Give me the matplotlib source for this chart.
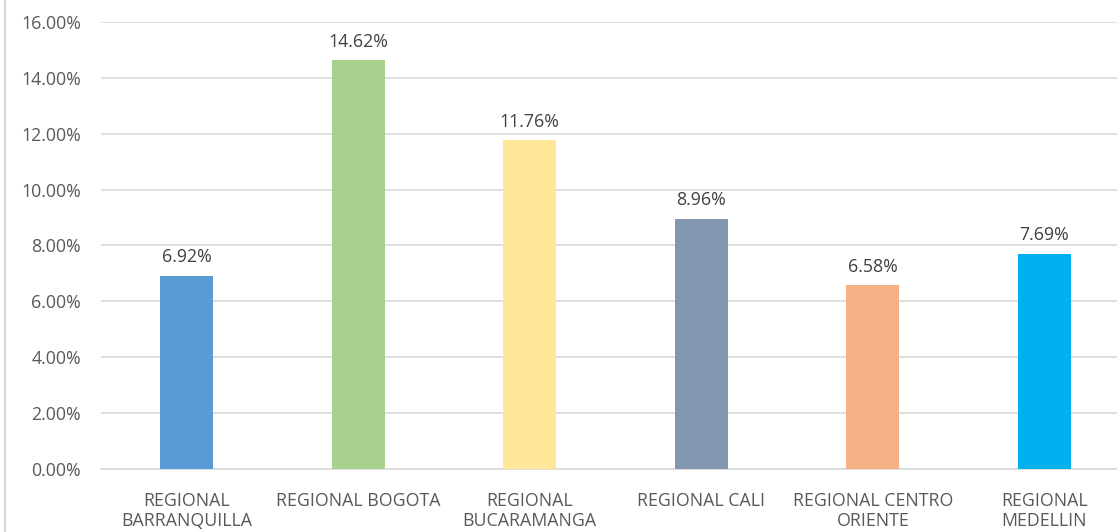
import matplotlib
matplotlib.use("Agg")
import matplotlib.pyplot as plt
from matplotlib.lines import Line2D

categories = ["REGIONAL\nBARRANQUILLA", "REGIONAL BOGOTA", "REGIONAL\nBUCARAMANGA",
              "REGIONAL CALI", "REGIONAL CENTRO\nORIENTE", "REGIONAL\nMEDELLIN"]
values = [6.92, 14.62, 11.76, 8.96, 6.58, 7.69]
colors = ["#5B9BD5", "#A9D18E", "#FFE699", "#8497B0", "#F4B183", "#00B0F0"]
yticks = [0, 2, 4, 6, 8, 10, 12, 14, 16]

plt.rcParams['font.family'] = ['Open Sans', 'DejaVu Sans']
W, H = 1117, 532
fig = plt.figure(figsize=(W / 100, H / 100), dpi=100)
fig.patch.set_facecolor("white")

left, right = 101 / W, 1130 / W
bottom, top = 1 - 469.3 / H, 1 - 21.7 / H
ax = fig.add_axes([left, bottom, right - left, top - bottom])

FS = 12.8
x = list(range(len(categories)))
ax.bar(x, values, width=0.31, color=colors, zorder=3)
for xi, v in zip(x, values):
    ax.annotate(f"{v:.2f}%", (xi, v), xytext=(0, 7), textcoords="offset points",
                ha="center", va="bottom", fontsize=FS, color="#404040")

ax.set_xlim(-0.5, len(categories) - 0.5)
ax.set_ylim(0, 16)
ax.set_yticks(yticks)
ax.set_yticklabels([f"{t:.2f}%" for t in yticks])
ax.set_xticks(x)
ax.set_xticklabels(categories, linespacing=1.15)
ax.tick_params(axis="both", length=0, colors="#595959", labelsize=FS)
ax.tick_params(axis="y", pad=14.4)
ax.tick_params(axis="x", pad=16.5)
ax.grid(axis="y", color="#D9D9D9", linewidth=1.2, zorder=0)
for s in ["top", "right", "left"]:
    ax.spines[s].set_visible(False)
ax.spines["bottom"].set_color("#D9D9D9")
ax.spines["bottom"].set_linewidth(1.2)

fig.add_artist(Line2D([4.5 / W, 4.5 / W], [0, 1], transform=fig.transFigure,
                      color="#D9D9D9", linewidth=1.5))

fig.savefig("out.png", dpi=100)
